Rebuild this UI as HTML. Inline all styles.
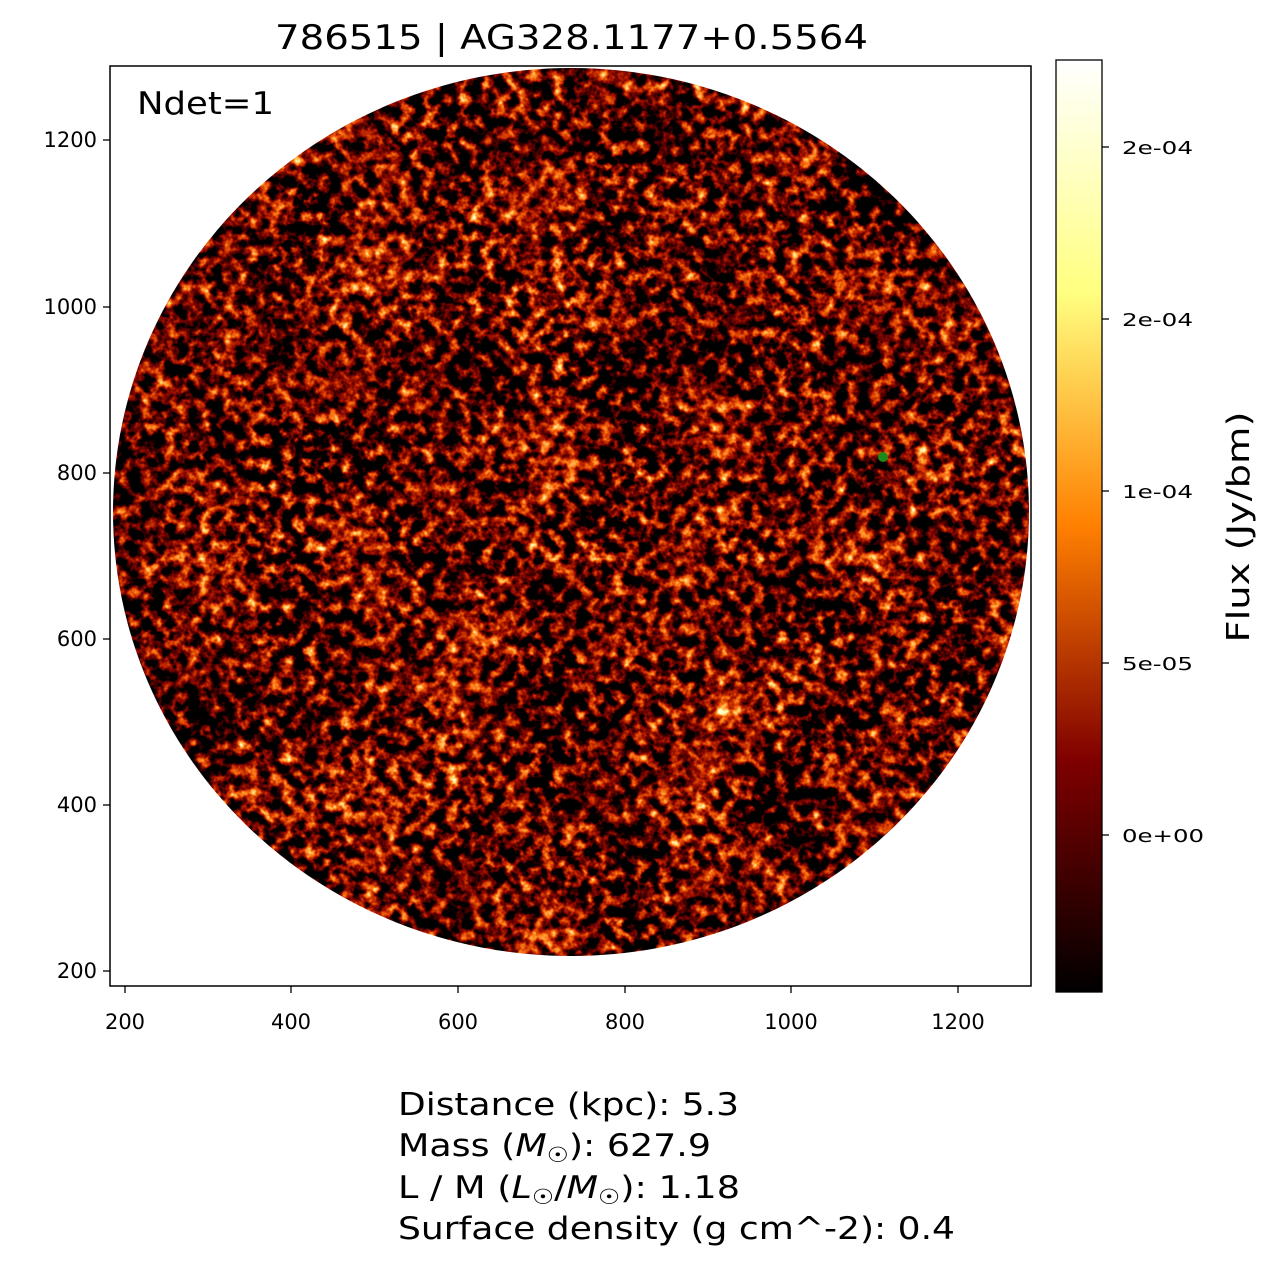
<!DOCTYPE html>
<html><head><meta charset="utf-8"><style>
body{margin:0;background:#fff;}
svg text{font-family:"DejaVu Sans","Liberation Sans",sans-serif;}
</style></head><body>
<svg width="1274" height="1267" viewBox="0 0 1274 1267" xmlns="http://www.w3.org/2000/svg">
<defs>
<filter id="noise" x="0" y="0" width="100%" height="100%" color-interpolation-filters="sRGB">
<feTurbulence type="fractalNoise" baseFrequency="0.085" numOctaves="3" seed="7" result="t"/>
<feTurbulence type="fractalNoise" baseFrequency="0.012" numOctaves="2" seed="3" result="t2"/>
<feComposite in="t" in2="t2" operator="arithmetic" k1="0" k2="0.85" k3="0.25" k4="-0.03" result="m"/>
<feColorMatrix in="m" type="matrix" values="2.3 0 0 0 -0.88  2.3 0 0 0 -0.88  2.3 0 0 0 -0.88  0 0 0 0 1"/>
<feComponentTransfer>
<feFuncR type="table" tableValues="0 0.3 0.6 0.85 1 1 1"/>
<feFuncG type="table" tableValues="0 0 0.05 0.25 0.5 0.8 1"/>
<feFuncB type="table" tableValues="0 0 0 0 0.1 0.4 0.8"/>
</feComponentTransfer>
</filter>
<clipPath id="circ"><ellipse cx="571" cy="512" rx="458" ry="444"/></clipPath>
<linearGradient id="cb" x1="0" y1="1" x2="0" y2="0">
<stop offset="0" stop-color="#000"/>
<stop offset="0.25" stop-color="#800000"/>
<stop offset="0.5" stop-color="#ff8000"/>
<stop offset="0.75" stop-color="#ffff80"/>
<stop offset="1" stop-color="#fff"/>
</linearGradient>
</defs>
<text x="275" y="49" font-size="34" textLength="593" lengthAdjust="spacingAndGlyphs">786515 | AG328.1177+0.5564</text>
<rect x="110" y="66" width="921" height="920" fill="#fff"/>
<g clip-path="url(#circ)">
<rect x="110" y="60" width="921" height="910" filter="url(#noise)"/>
</g>
<circle cx="883" cy="457" r="5" fill="#1a8a1a"/>
<rect x="110" y="66" width="921" height="920" fill="none" stroke="#000" stroke-width="1.5"/>
<text x="137" y="114" font-size="31" textLength="137" lengthAdjust="spacingAndGlyphs">Ndet=1</text>
<g font-size="21" text-anchor="middle">
<g stroke="#000" stroke-width="1.3">
<line x1="125" y1="986" x2="125" y2="993"/><line x1="291" y1="986" x2="291" y2="993"/><line x1="458" y1="986" x2="458" y2="993"/><line x1="625" y1="986" x2="625" y2="993"/><line x1="791" y1="986" x2="791" y2="993"/><line x1="958" y1="986" x2="958" y2="993"/>
<line x1="103" y1="971" x2="110" y2="971"/><line x1="103" y1="805" x2="110" y2="805"/><line x1="103" y1="639" x2="110" y2="639"/><line x1="103" y1="473" x2="110" y2="473"/><line x1="103" y1="307" x2="110" y2="307"/><line x1="103" y1="140" x2="110" y2="140"/>
</g>
<text x="125" y="1029">200</text><text x="291" y="1029">400</text><text x="458" y="1029">600</text><text x="625" y="1029">800</text><text x="791" y="1029">1000</text><text x="958" y="1029">1200</text>
</g>
<g font-size="21" text-anchor="end">
<text x="97" y="978">200</text><text x="97" y="812">400</text><text x="97" y="646">600</text><text x="97" y="480">800</text><text x="97" y="314">1000</text><text x="97" y="147">1200</text>
</g>
<rect x="1056" y="60" width="46" height="932" fill="url(#cb)" stroke="#000" stroke-width="1.3"/>
<g stroke="#000" stroke-width="1.3">
<line x1="1102" y1="147" x2="1109" y2="147"/><line x1="1102" y1="319" x2="1109" y2="319"/><line x1="1102" y1="491" x2="1109" y2="491"/><line x1="1102" y1="663" x2="1109" y2="663"/><line x1="1102" y1="835" x2="1109" y2="835"/>
</g>
<g font-size="18">
<text x="1122" y="154" textLength="71" lengthAdjust="spacingAndGlyphs">2e-04</text><text x="1122" y="326" textLength="71" lengthAdjust="spacingAndGlyphs">2e-04</text><text x="1122" y="498" textLength="71" lengthAdjust="spacingAndGlyphs">1e-04</text><text x="1122" y="670" textLength="71" lengthAdjust="spacingAndGlyphs">5e-05</text><text x="1122" y="842" textLength="82" lengthAdjust="spacingAndGlyphs">0e+00</text>
</g>
<text transform="translate(1249,527) rotate(-90)" font-size="31" text-anchor="middle" textLength="231" lengthAdjust="spacingAndGlyphs">Flux (Jy/bm)</text>
<g font-size="31">
<text x="398" y="1115" textLength="341" lengthAdjust="spacingAndGlyphs">Distance (kpc): 5.3</text>
<text x="398" y="1156" textLength="313" lengthAdjust="spacingAndGlyphs">Mass (<tspan font-style="italic">M</tspan><tspan font-size="21" dy="6">☉</tspan><tspan dy="-6">): 627.9</tspan></text>
<text x="398" y="1198" textLength="342" lengthAdjust="spacingAndGlyphs">L / M (<tspan font-style="italic">L</tspan><tspan font-size="21" dy="6">☉</tspan><tspan dy="-6">/</tspan><tspan font-style="italic">M</tspan><tspan font-size="21" dy="6">☉</tspan><tspan dy="-6">): 1.18</tspan></text>
<text x="398" y="1239" textLength="557" lengthAdjust="spacingAndGlyphs">Surface density (g cm^-2): 0.4</text>
</g>
</svg>
</body></html>
